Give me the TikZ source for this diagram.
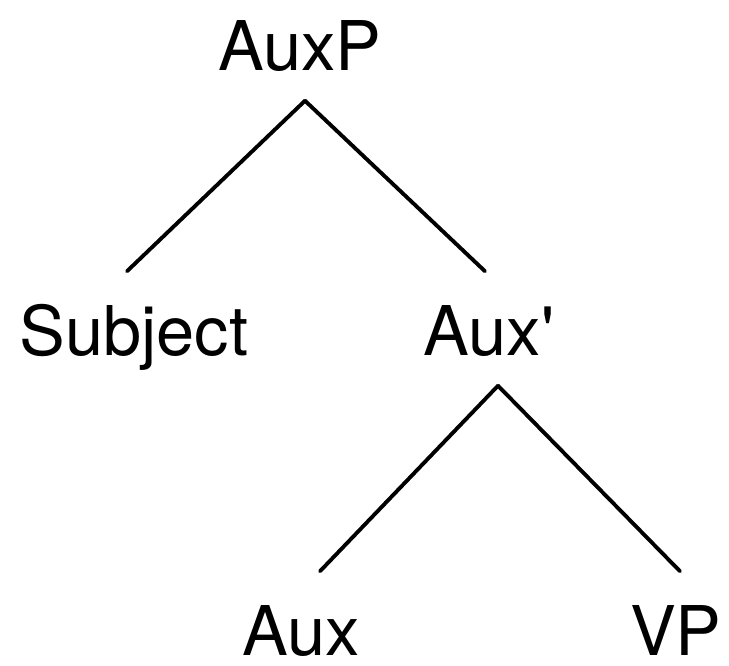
\documentclass[tikz,border=0pt]{standalone}
\usepackage{fontspec}
\setmainfont{TeX Gyre Heros}
\usetikzlibrary{positioning}

\begin{document}
\begin{tikzpicture}[x=0.01cm, y=-0.01cm,
        cat/.style={font=\fontsize{19.5}{23}\selectfont, anchor=base,
            inner xsep=0, inner ysep=0.3cm, text height=0.53cm, text depth=0},
        branch/.style={line width=1.1pt, line cap=round}]
    \useasboundingbox (0, 0) rectangle (729, 666);

    \node[cat] (auxp) at (300, 70) {AuxP};
    \node[cat] (subj) at (134, 355) {Subject};
    \node[cat] (auxbar) at (489, 355) {Aux\textquotesingle};
    \node[cat] (aux) at (301, 655) {Aux};
    \node[cat] (vp) at (676, 655) {VP};

    \draw[branch]
    ([xshift=0.05cm]auxp.south) edge ([xshift=-0.07cm]subj.north)
    ([xshift=0.05cm]auxp.south) edge ([xshift=-0.04cm]auxbar.north)
    ([xshift=0.09cm]auxbar.south) edge ([xshift=0.19cm]aux.north)
    ([xshift=0.09cm]auxbar.south) edge ([xshift=0.04cm]vp.north);
\end{tikzpicture}
\end{document}
